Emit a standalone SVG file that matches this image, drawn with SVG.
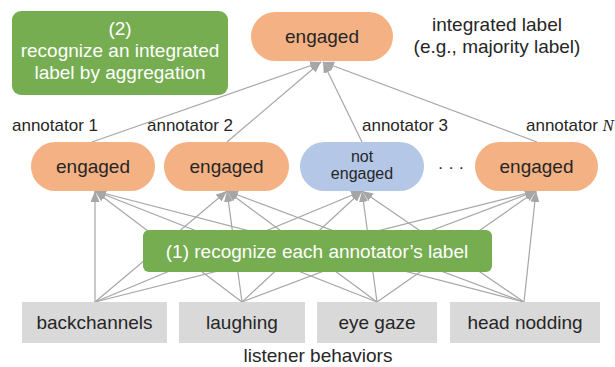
<svg xmlns="http://www.w3.org/2000/svg" width="615" height="367" viewBox="0 0 615 367">
  <style>
    text { font-family: "Liberation Sans", Arial, sans-serif; fill: #262626; }
    .t19 { font-size: 19px; text-anchor: middle; }
    .t17 { font-size: 17px; }
    .t16 { font-size: 16px; text-anchor: middle; }
    .white { fill: #ffffff; }
    .step { fill: #76ad51; }
    .eng { fill: #f4b183; }
    .not { fill: #b4c7e7; }
    .beh { fill: #d9d9d9; }
    .edge { stroke: #a6a6a6; stroke-width: 1.2; fill: none; marker-end: url(#arrow); }
  </style>
  <defs>
    <marker id="arrow" markerUnits="userSpaceOnUse" markerWidth="11" markerHeight="9" refX="11" refY="4.5" orient="auto">
      <path d="M0,0 L11,4.5 L0,9 z" fill="#a6a6a6"/>
    </marker>
  </defs>

  <rect width="615" height="367" fill="#ffffff"/>

  <!-- connectors: behaviors to annotators, annotators to integrated label -->
  <g id="connectors">
    <line class="edge" x1="95" y1="302" x2="95" y2="191"/>
    <line class="edge" x1="95" y1="302" x2="227" y2="191"/>
    <line class="edge" x1="95" y1="302" x2="362" y2="191"/>
    <line class="edge" x1="95" y1="302" x2="536" y2="191"/>
    <line class="edge" x1="242" y1="302" x2="95" y2="191"/>
    <line class="edge" x1="242" y1="302" x2="227" y2="191"/>
    <line class="edge" x1="242" y1="302" x2="362" y2="191"/>
    <line class="edge" x1="242" y1="302" x2="536" y2="191"/>
    <line class="edge" x1="377" y1="302" x2="95" y2="191"/>
    <line class="edge" x1="377" y1="302" x2="227" y2="191"/>
    <line class="edge" x1="377" y1="302" x2="362" y2="191"/>
    <line class="edge" x1="377" y1="302" x2="536" y2="191"/>
    <line class="edge" x1="524" y1="302" x2="95" y2="191"/>
    <line class="edge" x1="524" y1="302" x2="227" y2="191"/>
    <line class="edge" x1="524" y1="302" x2="362" y2="191"/>
    <line class="edge" x1="524" y1="302" x2="536" y2="191"/>

    <line class="edge" x1="92" y1="142" x2="321" y2="62"/>
    <line class="edge" x1="227" y1="142" x2="321" y2="62"/>
    <line class="edge" x1="362" y1="142" x2="323" y2="62"/>
    <line class="edge" x1="537" y1="142" x2="323" y2="62"/>
  </g>

  <!-- step labels -->
  <g id="step2">
    <rect class="step" x="12" y="11" width="216" height="84" rx="9"/>
    <text class="t19 white" x="120" y="35">(2)</text>
    <text class="t19 white" x="120" y="57">recognize an integrated</text>
    <text class="t19 white" x="120" y="79">label by aggregation</text>
  </g>

  <g id="step1">
    <rect class="step" x="143" y="230" width="349" height="42" rx="6"/>
    <text class="t19 white" x="317" y="258">(1) recognize each annotator’s label</text>
  </g>

  <!-- integrated label -->
  <g id="integrated">
    <rect class="eng" x="251" y="12" width="142" height="49" rx="24.5"/>
    <text class="t19" x="322" y="43">engaged</text>
    <text class="t19" x="497" y="31">integrated label</text>
    <text class="t19" x="497" y="53">(e.g., majority label)</text>
  </g>

  <!-- annotator labels -->
  <g id="annotator1">
    <text class="t17" x="12" y="131">annotator 1</text>
    <rect class="eng" x="31" y="142" width="124" height="49" rx="24.5"/>
    <text class="t19" x="93" y="173">engaged</text>
  </g>
  <g id="annotator2">
    <text class="t17" x="147" y="131">annotator 2</text>
    <rect class="eng" x="164" y="142" width="125" height="49" rx="24.5"/>
    <text class="t19" x="226.5" y="173">engaged</text>
  </g>
  <g id="annotator3">
    <text class="t17" x="362" y="131">annotator 3</text>
    <rect class="not" x="300" y="142" width="124" height="49" rx="24.5"/>
    <text class="t16" x="362" y="162">not</text>
    <text class="t16" x="362" y="179">engaged</text>
  </g>
  <g id="ellipsis">
    <text class="t17" x="451" y="173" text-anchor="middle">· · ·</text>
  </g>
  <g id="annotatorN">
    <text class="t17" x="526" y="131">annotator <tspan font-family="'Liberation Serif', 'Times New Roman', serif" font-style="italic">N</tspan></text>
    <rect class="eng" x="475" y="142" width="123" height="49" rx="24.5"/>
    <text class="t19" x="536.5" y="173">engaged</text>
  </g>

  <!-- listener behaviors -->
  <g id="backchannels">
    <rect class="beh" x="22" y="302" width="145" height="41"/>
    <text class="t19" x="94.5" y="329">backchannels</text>
  </g>
  <g id="laughing">
    <rect class="beh" x="179" y="302" width="126" height="41"/>
    <text class="t19" x="242" y="329">laughing</text>
  </g>
  <g id="eyegaze">
    <rect class="beh" x="317" y="302" width="120" height="41"/>
    <text class="t19" x="377" y="329">eye gaze</text>
  </g>
  <g id="headnodding">
    <rect class="beh" x="450" y="302" width="150" height="41"/>
    <text class="t19" x="525" y="329">head nodding</text>
  </g>
  <text class="t19" x="318" y="362">listener behaviors</text>
</svg>
